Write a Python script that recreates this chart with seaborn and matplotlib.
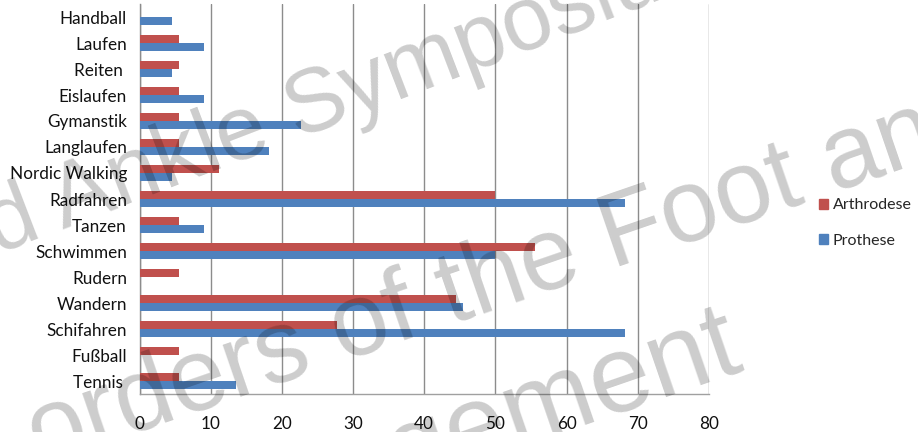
import matplotlib
matplotlib.use("Agg")
import matplotlib.pyplot as plt
import seaborn as sns
import pandas as pd

# Sportarten (von oben nach unten) und Anteile in Prozent je Gruppe
sportarten = ["Handball", "Laufen", "Reiten ", "Eislaufen", "Gymanstik",
              "Langlaufen", "Nordic Walking", "Radfahren", "Tanzen",
              "Schwimmen", "Rudern", "Wandern", "Schifahren", "Fußball",
              "Tennis "]
arthrodese = [0.0, 5.6, 5.6, 5.6, 5.6, 5.6, 11.1, 50.0, 5.6, 55.6, 5.6,
              44.4, 27.8, 5.6, 5.6]
prothese = [4.5, 9.1, 4.5, 9.1, 22.7, 18.2, 4.5, 68.2, 9.1, 50.0, 0.0,
            45.5, 68.2, 0.0, 13.6]
gruppen = ["Arthrodese", "Prothese"]
x_ticks = [0, 10, 20, 30, 40, 50, 60, 70, 80]

# Wasserzeichen-Zeilen
wz_zeilen = ["d Ankle Symposium", "orders of the Foot and", "gement"]

df = pd.DataFrame({
    "Sportart": sportarten * 2,
    "Anteil": arthrodese + prothese,
    "Gruppe": [gruppen[0]] * len(sportarten) + [gruppen[1]] * len(sportarten),
})

sns.set_theme(style="white")
plt.rcParams["font.family"] = ["Lato", "DejaVu Sans"]

W, H = 918, 432
fig = plt.figure(figsize=(W / 100, H / 100), dpi=100)
ax = fig.add_axes([139.5 / W, 1 - 394 / H, (709 - 139.5) / W, 390 / H])

farben = ["#C0504D", "#4F81BD"]
sns.barplot(data=df, y="Sportart", x="Anteil", hue="Gruppe",
            hue_order=gruppen, order=sportarten, orient="h",
            palette=farben, width=0.6, errorbar=None, saturation=1,
            linewidth=0, ax=ax, zorder=3)

ax.set_xlim(0, 80)
ax.set_ylim(len(sportarten) - 0.5, -0.5)
ax.set_xticks(x_ticks)
ax.set_xticklabels([str(t) for t in x_ticks])
ax.set_xlabel("")
ax.set_ylabel("")
ax.grid(axis="x", color="#8c8c8c", linewidth=1.0, zorder=0)
ax.grid(axis="y", visible=False)
ax.set_axisbelow(True)
for side in ["top", "right"]:
    ax.spines[side].set_visible(False)
ax.spines["left"].set_color("#8c8c8c")
ax.spines["bottom"].set_color("#a0a0a0")
ax.spines["left"].set_linewidth(1.0)
ax.spines["bottom"].set_linewidth(1.0)
ax.tick_params(axis="x", length=0, pad=16, labelsize=12.3, colors="#111111")
ax.tick_params(axis="y", length=0, pad=9, labelsize=12.3, colors="#111111")

ax.legend_.remove()
handles = [plt.Rectangle((0, 0), 1, 1, color=c) for c in farben]
fig.legend(handles, gruppen, loc="center left",
           bbox_to_anchor=(819 / W, 1 - 223 / H), frameon=False,
           fontsize=11.5, handlelength=0.55, handleheight=0.6,
           handletextpad=0.3, labelspacing=1.35, borderpad=0,
           borderaxespad=0)

# Wasserzeichen: Zeile, Ankerpunkt (Pixel), Größe, Winkel
wz_pos = [(-3, 254), (40, 466), (400, 487)]
wz_groesse = [65, 74, 79]
wz_winkel = [21, 19, 19]
for text, (px, py), fs, rot in zip(wz_zeilen, wz_pos, wz_groesse, wz_winkel):
    fig.text(px / W, 1 - py / H, text, rotation=rot, rotation_mode="anchor",
             ha="left", va="baseline", fontsize=fs, color="black",
             alpha=0.2, family="Liberation Sans", zorder=10)

fig.savefig("out.png", dpi=100)
